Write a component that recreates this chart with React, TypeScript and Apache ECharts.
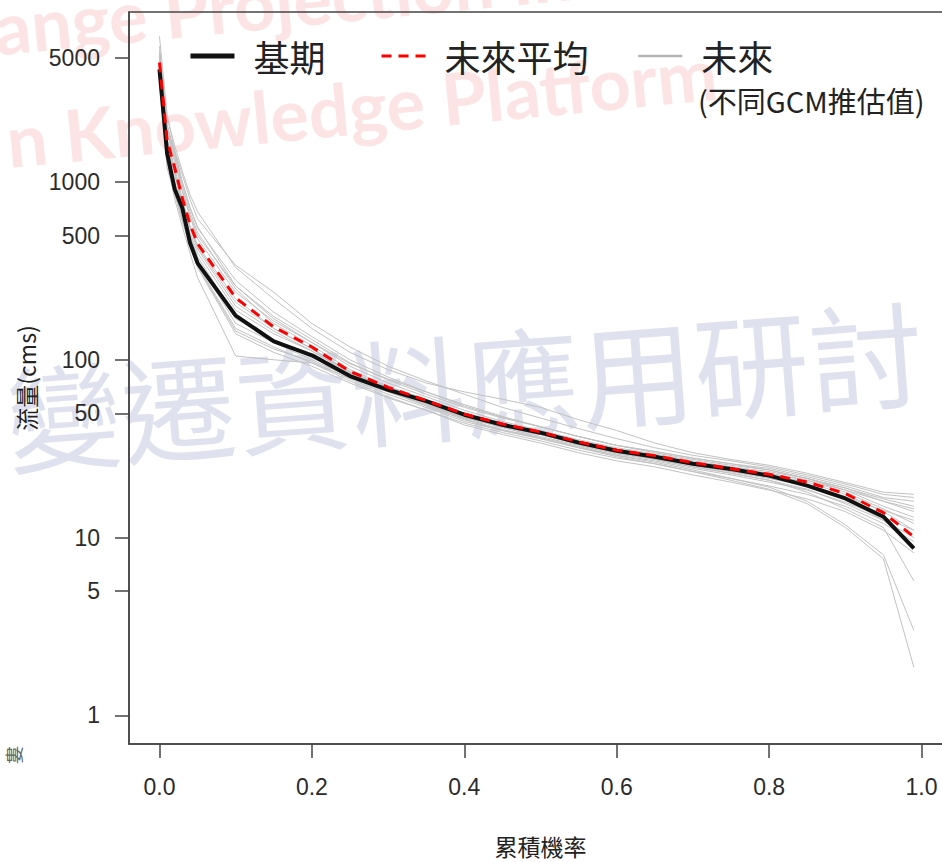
import React, { useEffect, useRef } from 'react';
import * as echarts from 'echarts';

// cumulative probability (x) at which flows are given
const probs = [0, 0.01, 0.02, 0.03, 0.04, 0.05, 0.1, 0.15, 0.2, 0.25, 0.3, 0.35, 0.4, 0.45, 0.5, 0.55, 0.6, 0.65, 0.7, 0.75, 0.8, 0.85, 0.9, 0.95, 0.99];

// 基期 (baseline) flow duration curve, cms
const baseline = [4300, 1450, 910, 714, 455, 350, 177, 127, 106, 81, 67.8, 58.5, 49.1, 43.1, 38.9, 34.2, 30.8, 28.5, 26.0, 24.3, 22.3, 19.6, 16.6, 13.1, 8.7];
// 未來平均 (future ensemble mean)
const futureMean = [4700, 1720, 1200, 810, 580, 450, 223, 153, 118, 86, 70, 59, 49.5, 43.5, 39.2, 34.5, 31, 28.9, 26.4, 24.4, 22.7, 20.5, 17.7, 13.8, 10.1];

// 未來 (individual GCM projections)
const gcm01 = [6600, 2400, 1500, 1000, 720, 560, 260, 170, 125, 92, 74, 62, 52, 45, 40, 35.5, 32, 29.5, 27, 25, 23.5, 21.5, 19, 16.5, 15];
const gcm02 = [5800, 2100, 1400, 950, 680, 520, 250, 160, 120, 88, 71, 60, 50, 44, 39.5, 35, 31.5, 29, 26.5, 24.5, 23, 21, 18.5, 16, 14.5];
const gcm03 = [4200, 2000, 1500, 1100, 800, 620, 340, 240, 160, 118, 92, 76, 64, 54, 47, 41, 36, 32, 29, 27, 25, 22.5, 20, 17.5, 16.8];
const gcm04 = [5200, 1900, 1300, 880, 640, 480, 240, 165, 125, 95, 78, 66, 56, 48, 42, 37, 33, 30.5, 28, 26, 24, 21.5, 18.5, 15, 13];
const gcm05 = [3800, 1300, 800, 560, 400, 290, 105, 100, 96, 79, 66, 56, 47, 42, 38, 33.5, 30, 28, 25.5, 23.5, 21.5, 19.5, 16.5, 12.5, 9];
const gcm06 = [4500, 1600, 1100, 720, 520, 400, 190, 140, 112, 85, 69, 58, 48, 42, 38, 33.5, 30, 27.5, 25, 23, 21, 18, 14.5, 11.4, 5.7];
const gcm07 = [4000, 1500, 950, 680, 480, 360, 160, 125, 100, 80, 66, 55, 46, 40, 36, 32, 28.5, 26, 23.5, 21, 18.7, 15.5, 11.4, 7.6, 1.86];
const gcm08 = [4400, 1550, 1000, 700, 500, 380, 175, 130, 104, 82, 67, 56, 46.5, 40.5, 36.5, 32.5, 29, 26.5, 24, 21.5, 19.2, 16, 11.8, 8.0, 3.0];
const gcm09 = [5000, 2300, 1600, 1150, 850, 680, 330, 220, 150, 110, 88, 74, 66, 60, 54, 46, 40, 34, 30, 27.5, 25.5, 23, 20.4, 18, 17.5];
const gcm10 = [4800, 1700, 1150, 780, 560, 430, 210, 150, 116, 85, 69, 58, 49, 43, 38.5, 34, 30.5, 28.5, 26, 24, 22.5, 20.5, 17.5, 14, 11];
const gcm11 = [4300, 1450, 950, 650, 470, 360, 170, 130, 104, 82, 68, 57, 47.5, 41.5, 37, 33, 29.5, 27.5, 25, 23, 21, 18.7, 15.5, 12.5, 10];
const gcm12 = [5500, 2000, 1350, 900, 650, 500, 260, 175, 130, 96, 77, 64, 54, 47, 42, 37, 33, 30.5, 28, 26, 24.5, 22, 19.5, 16.8, 16];
const gcm13 = [4100, 1400, 900, 620, 450, 340, 150, 118, 96, 76, 62, 52, 44, 39, 35, 31, 28, 26, 23.5, 21.5, 19.5, 17.5, 15, 12, 9.5];
const gcm14 = [4700, 1750, 1200, 800, 570, 440, 220, 150, 115, 86, 70, 59, 49, 43, 38.5, 34, 30.5, 28.5, 26.5, 24.5, 23, 21, 18, 14.5, 12];
const gcm15 = [3600, 1200, 850, 600, 440, 330, 140, 110, 92, 74, 61, 52, 43, 38, 34, 30, 27, 25, 22.5, 20.5, 18.5, 16.5, 14, 11, 8.2];
const gcm16 = [5300, 2100, 1450, 1000, 720, 550, 280, 185, 135, 100, 80, 66, 55, 47.5, 42, 37, 33, 30, 27.5, 25.5, 24, 21.5, 19, 16, 14];
const gcm17 = [4600, 1650, 1100, 760, 550, 420, 200, 145, 112, 84, 68, 57, 48, 42, 38, 33.5, 30, 28, 25.5, 23.5, 21.8, 19.8, 17, 14.2, 12.5];
const gcm18 = [3900, 1350, 880, 610, 440, 335, 145, 115, 98, 78, 64, 54, 45, 40, 36, 32, 29, 27, 24.5, 22.5, 20.5, 18.5, 15.8, 13, 11];
const gcmRuns = [gcm01, gcm02, gcm03, gcm04, gcm05, gcm06, gcm07, gcm08, gcm09, gcm10, gcm11, gcm12, gcm13, gcm14, gcm15, gcm16, gcm17, gcm18];

// tick labels
const xTicks = [0, 0.2, 0.4, 0.6, 0.8, 1.0];
const yTicks = [1, 5, 10, 50, 100, 500, 1000, 5000];

const LATIN = "'Liberation Sans', Arial, 'Noto Sans CJK TC', sans-serif";
const CJK = "'Noto Sans CJK TC', 'Liberation Sans', sans-serif";
const AXIS = '#444444';
const LABEL = '#2b2b2b';

export default function App() {
  const ref = useRef<HTMLDivElement>(null);

  useEffect(() => {
    if (!ref.current) return;
    const chart = echarts.init(ref.current, null, { renderer: 'svg' });

    const toPairs = (vals: number[]) => probs.map((p, i) => [p, vals[i]]);

    const graySeries = gcmRuns.map((run) => ({
      type: 'line',
      name: '未來',
      data: toPairs(run),
      symbol: 'none',
      silent: true,
      z: 2,
      lineStyle: { color: '#c2c2c2', width: 1 },
    }));

    const legendCommon = {
      top: 38,
      itemWidth: 44,
      itemHeight: 20,
      selectedMode: false,
      orient: 'horizontal',
      padding: 0,
      itemStyle: { opacity: 0 },
      textStyle: { fontSize: 36, color: '#222', fontFamily: CJK, padding: [0, 0, 0, 14] },
    };

    const option: any = {
      animation: false,
      backgroundColor: '#ffffff',
      textStyle: { fontFamily: LATIN },
      grid: {
        left: 129,
        top: 12,
        width: 823,
        height: 734,
        show: true,
        borderColor: AXIS,
        borderWidth: 1.5,
        backgroundColor: 'transparent',
      },
      legend: [
        { ...legendCommon, left: 188, data: ['基期'], lineStyle: { width: 5 } },
        { ...legendCommon, left: 380, data: ['未來平均'], lineStyle: { width: 3 } },
        { ...legendCommon, left: 637, data: ['未來'], lineStyle: { width: 2.5, color: '#b4b4b4' } },
      ],
      xAxis: {
        type: 'value',
        min: -0.04,
        max: 1.04,
        name: '累積機率',
        nameLocation: 'middle',
        nameGap: 90,
        nameTextStyle: { fontSize: 23, color: '#222', fontFamily: CJK },
        axisLine: { show: true, onZero: false, lineStyle: { color: AXIS, width: 1.5 } },
        axisTick: { show: true, inside: false, length: 14, customValues: xTicks, lineStyle: { color: AXIS, width: 1.5 } },
        axisLabel: {
          customValues: xTicks,
          formatter: (v: number) => v.toFixed(1),
          fontSize: 23,
          color: LABEL,
          margin: 31,
          hideOverlap: false,
        },
        splitLine: { show: false },
      },
      yAxis: {
        type: 'log',
        logBase: 10,
        min: 0.69,
        max: 9040,
        name: '流量(cms)',
        nameLocation: 'middle',
        nameGap: 82,
        nameRotate: 90,
        nameTextStyle: { fontSize: 23, color: '#222', fontFamily: CJK },
        axisLine: { show: true, onZero: false, lineStyle: { color: AXIS, width: 1.5 } },
        axisTick: { show: true, inside: false, length: 14, customValues: yTicks, lineStyle: { color: AXIS, width: 1.5 } },
        axisLabel: {
          customValues: yTicks,
          formatter: (v: number) => String(Math.round(v)),
          fontSize: 23,
          color: LABEL,
          margin: 29,
          hideOverlap: false,
        },
        splitLine: { show: false },
        minorTick: { show: false },
      },
      graphic: [
        {
          type: 'text',
          z: -10,
          silent: true,
          x: -90,
          y: 72,
          rotation: (5.5 * Math.PI) / 180,
          style: {
            text: 'Change Projection Information',
            fontSize: 72,
            fontWeight: 'bold',
            fontFamily: 'Lato, sans-serif',
            fill: '#fce4e4',
            align: 'left',
            verticalAlign: 'bottom',
          },
        },
        {
          type: 'text',
          z: -10,
          silent: true,
          x: 10,
          y: 176,
          rotation: (5.5 * Math.PI) / 180,
          style: {
            text: 'n Knowledge Platform',
            fontSize: 72,
            fontWeight: 'bold',
            fontFamily: 'Lato, sans-serif',
            fill: '#fce4e4',
            align: 'left',
            verticalAlign: 'bottom',
          },
        },
        {
          type: 'text',
          z: -10,
          silent: true,
          x: 6,
          y: 416,
          rotation: (4.3 * Math.PI) / 180,
          style: {
            text: '變遷資料應用研討',
            fontSize: 115,
            fontFamily: CJK,
            fill: '#dfe2ee',
            align: 'left',
            verticalAlign: 'middle',
          },
        },
        {
          type: 'text',
          z: 10,
          silent: true,
          x: 698,
          y: 85,
          style: {
            text: '(不同GCM推估值)',
            fontSize: 29,
            fontFamily: CJK,
            fill: '#222',
            align: 'left',
            verticalAlign: 'top',
          },
        },
        {
          type: 'text',
          z: 10,
          silent: true,
          x: 13,
          y: 755,
          rotation: Math.PI / 2,
          style: {
            text: '婁',
            fontSize: 18,
            fontFamily: CJK,
            fill: '#666',
            align: 'center',
            verticalAlign: 'middle',
          },
        },
      ],
      series: [
        ...graySeries,
        {
          type: 'line',
          name: '基期',
          data: toPairs(baseline),
          symbol: 'none',
          z: 3,
          lineStyle: { color: '#111111', width: 4 },
        },
        {
          type: 'line',
          name: '未來平均',
          data: toPairs(futureMean),
          symbol: 'none',
          z: 4,
          lineStyle: { color: '#ff0000', width: 3, type: [10, 7] },
        },
      ],
    };

    chart.setOption(option);
    return () => chart.dispose();
  }, []);

  return (
    <div
      style={{
        position: 'absolute',
        left: 0,
        top: 0,
        width: 942,
        height: 862,
        overflow: 'hidden',
        background: '#ffffff',
      }}
    >
      <div ref={ref} style={{ width: 970, height: 862 }} />
    </div>
  );
}
